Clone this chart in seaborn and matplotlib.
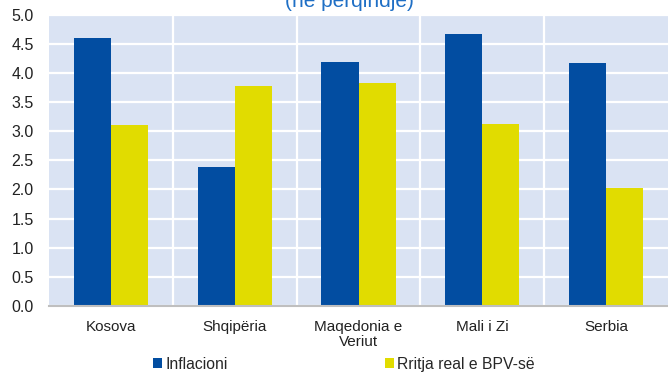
import matplotlib
matplotlib.use("Agg")
import matplotlib.pyplot as plt
from matplotlib.patches import Patch
import seaborn as sns
import pandas as pd

countries = ["Kosova", "Shqipëria", "Maqedonia e\nVeriut", "Mali i Zi", "Serbia"]
inflation = [4.60, 2.39, 4.19, 4.67, 4.17]
gdp_growth = [3.11, 3.78, 3.83, 3.13, 2.03]
series_names = ["Inflacioni", "Rritja real e BPV-së"]
y_ticks = [0.0, 0.5, 1.0, 1.5, 2.0, 2.5, 3.0, 3.5, 4.0, 4.5, 5.0]

blue = "#024DA1"
yellow = "#E1DC00"
panel_bg = "#DAE3F3"

df = pd.DataFrame({
    "country": countries * 2,
    "value": inflation + gdp_growth,
    "series": [series_names[0]] * len(countries) + [series_names[1]] * len(countries),
})

sns.set_style("white")
plt.rcParams["font.family"] = ["Liberation Sans", "DejaVu Sans"]

fig = plt.figure(figsize=(6.68, 3.73), dpi=100)
ax = fig.add_axes([0.0734, 0.18, 0.9266, 0.78])
ax.set_facecolor(panel_bg)

sns.barplot(data=df, x="country", y="value", hue="series", order=countries,
            hue_order=series_names, palette=[blue, yellow], width=0.6,
            gap=0, saturation=1, edgecolor="none", linewidth=0, ax=ax,
            legend=False, zorder=3)

ax.set_ylim(0, 5.0)
ax.set_xlim(-0.5, len(countries) - 0.5)
ax.set_yticks(y_ticks)
ax.set_yticklabels([f"{v:.1f}" for v in y_ticks], fontsize=11.5, color="#222222")
ax.set_xticks(range(len(countries)))
ax.set_xticklabels(countries, fontsize=11, color="#222222", linespacing=1.15)
ax.set_xticks([i + 0.5 for i in range(len(countries) - 1)], minor=True)
ax.tick_params(axis="both", which="both", length=0)
ax.tick_params(axis="y", pad=11)
ax.tick_params(axis="x", pad=10)
ax.set_xlabel("")
ax.set_ylabel("")

ax.grid(axis="y", which="major", color="white", linewidth=1.6, zorder=1)
ax.grid(axis="x", which="minor", color="white", linewidth=1.6, zorder=1)
ax.grid(axis="x", which="major", visible=False)
ax.set_axisbelow(True)

for side in ["top", "right", "left"]:
    ax.spines[side].set_visible(False)
ax.spines["bottom"].set_color("#BFBFBF")
ax.spines["bottom"].set_linewidth(1.5)
ax.spines["bottom"].set_zorder(4)

fig.text(0.523, 0.995, "(në përqindje)", color="#1F6FC5", fontsize=15,
         ha="center", va="center")

handles = [Patch(facecolor=blue, edgecolor="none"),
           Patch(facecolor=yellow, edgecolor="none")]
fig.legend(handles, series_names, loc="center", bbox_to_anchor=(0.515, 0.024),
           ncol=2, frameon=False, fontsize=11.3, handlelength=0.6,
           handleheight=0.6, handletextpad=0.2, columnspacing=10.0,
           borderpad=0)

fig.savefig("out.png", dpi=100)
